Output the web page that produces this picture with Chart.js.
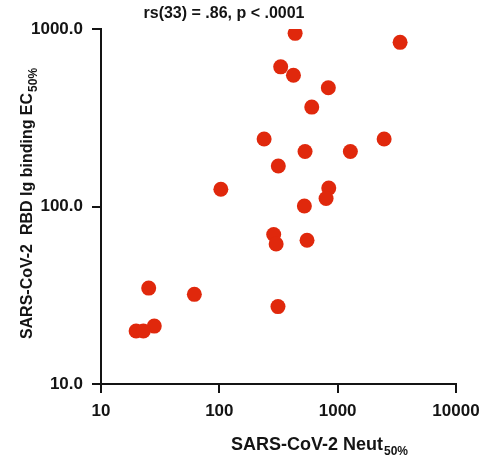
<!DOCTYPE html>
<html>
<head>
<meta charset="utf-8">
<script src="https://cdn.jsdelivr.net/npm/chart.js@4/dist/chart.umd.min.js"></script>
<style>
  html, body { margin: 0; padding: 0; background: #fff; }
  #c { display: block; }
</style>
</head>
<body>
<canvas id="c" width="482" height="459"></canvas>
<script>
// ---- data ----
const neutTiters = [437, 3370, 330, 423, 834, 604, 239, 530, 1280, 2470, 315, 103, 841, 798, 523, 288, 302, 551, 25.3, 61.5, 313, 28.2, 19.8, 22.8];
const bindingEC50 = [945, 841, 612, 549, 467, 363, 240, 204, 204, 240, 169, 125, 127, 111, 100.6, 69.6, 61.5, 64.6, 34.7, 32, 27.3, 21.2, 19.9, 19.9];
const xTickValues = [10, 100, 1000, 10000];
const yTickValues = [10, 100, 1000];
const titleText = 'rs(33) = .86, p < .0001';
const xTitleMain = 'SARS-CoV-2 Neut';
const yTitleMain = 'SARS-CoV-2  RBD Ig binding EC';
const titleSub = '50%';

const points = neutTiters.map((x, i) => ({ x: x, y: bindingEC50[i] }));
const INK = '#141414';
const FONT = '"Liberation Sans", Arial, Helvetica, sans-serif';

const textPlugin = {
  id: 'texts',
  afterDraw(chart) {
    const ctx = chart.ctx;
    ctx.save();
    ctx.fillStyle = INK;
    ctx.textBaseline = 'alphabetic';
    ctx.textAlign = 'left';
    // top annotation
    ctx.font = 'bold 16px ' + FONT;
    const tw = ctx.measureText(titleText).width;
    ctx.fillText(titleText, 224 - tw / 2, 18);

    // x-axis title with subscript
    ctx.font = 'bold 18px ' + FONT;
    const xm = ctx.measureText(xTitleMain).width;
    ctx.font = 'bold 12px ' + FONT;
    const xs = ctx.measureText(titleSub).width;
    const xStart = 319 - (xm + xs) / 2;
    ctx.font = 'bold 18px ' + FONT;
    ctx.fillText(xTitleMain, xStart, 450);
    ctx.font = 'bold 12px ' + FONT;
    ctx.fillText(titleSub, xStart + xm + 1, 455);

    // y-axis title (rotated) with subscript
    ctx.translate(32, 204);
    ctx.rotate(-Math.PI / 2);
    ctx.font = 'bold 16px ' + FONT;
    const ym = ctx.measureText(yTitleMain).width;
    ctx.font = 'bold 12px ' + FONT;
    const ys = ctx.measureText(titleSub).width;
    const yStart = -(ym + ys) / 2;
    ctx.font = 'bold 16px ' + FONT;
    ctx.fillText(yTitleMain, yStart, 0);
    ctx.font = 'bold 12px ' + FONT;
    ctx.fillText(titleSub, yStart + ym + 1, 5);
    ctx.restore();
  }
};

new Chart(document.getElementById('c'), {
  type: 'scatter',
  data: {
    datasets: [{
      data: points,
      backgroundColor: '#e0280c',
      borderColor: '#e0280c',
      borderWidth: 0,
      pointRadius: 7.5,
      pointHoverRadius: 7.5
    }]
  },
  options: {
    responsive: false,
    animation: false,
    events: [],
    layout: { padding: { top: 29, right: 26, left: 0, bottom: 0 } },
    plugins: {
      legend: { display: false },
      tooltip: { enabled: false },
      title: { display: false }
    },
    scales: {
      x: {
        type: 'logarithmic',
        min: 10,
        max: 10000,
        afterBuildTicks(scale) { scale.ticks = xTickValues.map(v => ({ value: v })); },
        afterFit(scale) {
          scale.height = 75;
          scale.paddingLeft = 0;
          scale.paddingRight = 0;
        },
        border: { display: true, color: INK, width: 2 },
        grid: { display: true, drawOnChartArea: false, drawTicks: true, tickLength: 9, color: INK, lineWidth: 2 },
        ticks: {
          color: INK,
          font: { family: FONT, size: 17, weight: 'bold' },
          padding: 8,
          maxRotation: 0,
          autoSkip: false,
          callback: (v) => String(v)
        }
      },
      y: {
        type: 'logarithmic',
        min: 10,
        max: 1000,
        afterBuildTicks(scale) { scale.ticks = yTickValues.map(v => ({ value: v })); },
        afterFit(scale) {
          scale.width = 101;
          scale.paddingTop = 0;
          scale.paddingBottom = 0;
        },
        border: { display: true, color: INK, width: 2 },
        grid: { display: true, drawOnChartArea: false, drawTicks: true, tickLength: 9, color: INK, lineWidth: 2 },
        ticks: {
          color: INK,
          font: { family: FONT, size: 17, weight: 'bold' },
          padding: 9,
          autoSkip: false,
          callback: (v) => Number(v).toFixed(1)
        }
      }
    }
  },
  plugins: [textPlugin]
});
</script>
</body>
</html>
